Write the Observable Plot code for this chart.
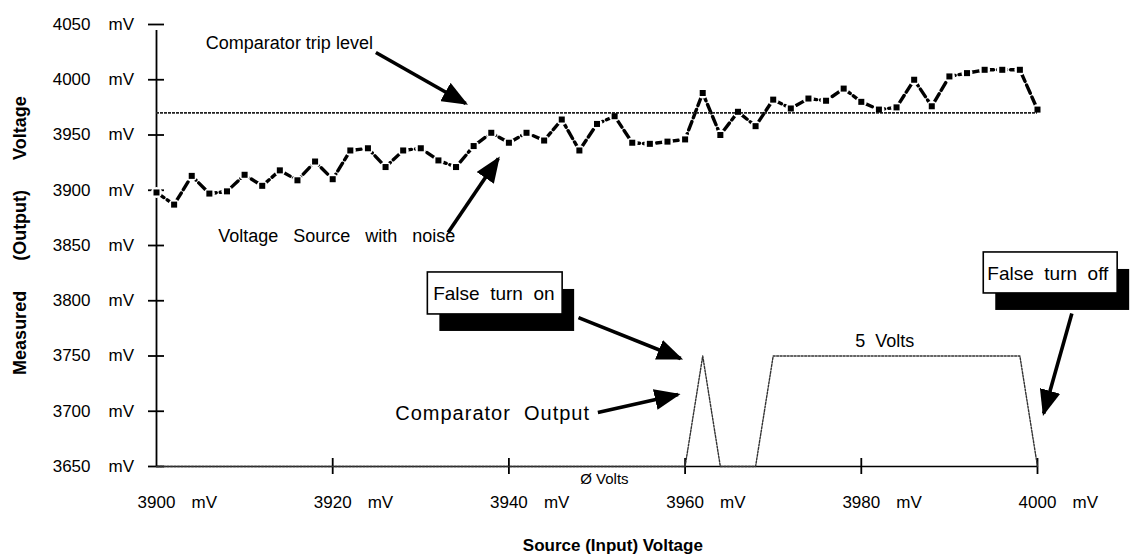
<!DOCTYPE html>
<html><head><meta charset="utf-8">
<script src="https://cdn.jsdelivr.net/npm/d3@7"></script>
<script src="https://cdn.jsdelivr.net/npm/@observablehq/plot@0.6"></script>
<style>
html,body{margin:0;padding:0;background:#fff;}
#chart svg{display:block;}
#chart svg text{white-space:pre;}
</style></head><body><div id="chart"></div>
<script>
// Source (input) voltage, mV
const sourceMv = [3900,3902,3904,3906,3908,3910,3912,3914,3916,3918,3920,3922,3924,3926,3928,3930,3932,3934,3936,3938,3940,3942,3944,3946,3948,3950,3952,3954,3956,3958,3960,3962,3964,3966,3968,3970,3972,3974,3976,3978,3980,3982,3984,3986,3988,3990,3992,3994,3996,3998,4000];
// Measured (output) voltage of the noisy source, mV
const measuredMv = [3898,3887,3913,3897,3899,3914,3904,3918,3909,3926,3910,3936,3938,3921,3936,3938,3927,3921,3940,3952,3943,3952,3945,3964,3936,3960,3967,3943,3942,3944,3946,3988,3950,3971,3958,3982,3974,3983,3981,3992,3980,3973,3975,4000,3976,4003,4006,4009,4009,4009,3973];
// Comparator output trace
const compX = [3900,3960,3962,3964,3968,3970,3998,4000];
const compY = [3650,3650,3750,3650,3650,3750,3750,3650];
const tripLevel = 3970;
const yTicks = [3650,3700,3750,3800,3850,3900,3950,4000,4050];
const xTicks = [3900,3920,3940,3960,3980,4000];
const yTitle = "Measured      (Output)      Voltage";
const xTitle = "Source (Input) Voltage";

// annotation texts
const noteText = ["Comparator trip level","Voltage   Source   with   noise","Comparator  Output","Ø Volts","5  Volts"];
const noteX = [3905.6,3907.0,3927.1,3948.1,3979.3];
const noteY = [4032.8,3858.1,3698.0,3638.2,3763.1];
const noteSize = [18,18,20,15,18];
const noteSpacing = [0,0,1,0,0];
// arrows
const arrowX1 = [3924.9,3933.1,3947.9,3950.1,4003.9];
const arrowY1 = [4024.7,3861.8,3784.8,3698.9,3788.5];
const arrowX2 = [3935.1,3938.8,3959.5,3959.2,4000.7];
const arrowY2 = [3978.5,3928.7,3747.7,3715.2,3698.0];
// boxed labels
const boxText = ["False  turn  on","False  turn  off"];
const boxX1 = [3930.8,3993.9];
const boxX2 = [3946.1,4009.1];
const boxY1 = [3787.6,3806.6];
const boxY2 = [3825.6,3843.7];
const boxTextX = [3931.4,3994.3];
const boxTextY = [3806.6,3824.7];

const series = sourceMv.map((x,i)=>({x, y: measuredMv[i]}));
const comp = compX.map((x,i)=>({x, y: compY[i]}));
const notes = noteText.map((t,i)=>({t, x: noteX[i], y: noteY[i], s: noteSize[i], ls: noteSpacing[i]}));
const arrows = arrowX1.map((x1,i)=>({x1, y1: arrowY1[i], x2: arrowX2[i], y2: arrowY2[i]}));
const boxes = boxText.map((t,i)=>({t, x1: boxX1[i], x2: boxX2[i], y1: boxY1[i], y2: boxY2[i], tx: boxTextX[i], ty: boxTextY[i]}));

function triHead(color) {
  const m = d3.create("svg:marker")
    .attr("viewBox", "0 -5 10 10")
    .attr("refX", 9).attr("refY", 0)
    .attr("markerUnits", "userSpaceOnUse")
    .attr("markerWidth", 26).attr("markerHeight", 21)
    .attr("preserveAspectRatio", "none")
    .attr("orient", "auto");
  m.append("path").attr("d", "M0,-5L10,0L0,5Z").attr("fill", color).attr("stroke", "none");
  return m.node();
}

const font = "'Liberation Sans', Arial, Helvetica, sans-serif";

const chart = Plot.plot({
  width: 1133, height: 559,
  marginLeft: 156, marginRight: 96, marginTop: 24, marginBottom: 93,
  x: {domain: [3900, 4000], axis: null},
  y: {domain: [3650, 4050], axis: null},
  style: {fontFamily: font, fontSize: "17px", color: "#000", background: "#fff"},
  marks: [
    // axes
    Plot.ruleX([3900], {y1: 3650, y2: 4050, stroke: "#000", strokeWidth: 1.8, insetBottom: -6}),
    Plot.ruleY([3650], {x1: 3900, x2: 4000, stroke: "#000", strokeWidth: 1.4}),
    Plot.ruleY(yTicks, {y: d => d, x1: 3900, x2: 3900, insetLeft: -8, insetRight: -8, stroke: "#000", strokeWidth: 1.8}),
    Plot.ruleX(xTicks.slice(1), {x: d => d, y1: 3650, y2: 3650, insetTop: -8, insetBottom: -8, stroke: "#000", strokeWidth: 1.8}),
    Plot.text(yTicks, {y: d => d, frameAnchor: "left", dx: -66, textAnchor: "end", text: d => String(d), fontSize: 17}),
    Plot.text(yTicks, {y: d => d, frameAnchor: "left", dx: -48, textAnchor: "start", text: () => "mV", fontSize: 17}),
    Plot.text(xTicks, {x: d => d, frameAnchor: "bottom", dy: 41, textAnchor: "middle", text: d => String(d), fontSize: 17}),
    Plot.text(xTicks, {x: d => d, frameAnchor: "bottom", dy: 41, dx: 35, textAnchor: "start", text: () => "mV", fontSize: 17}),
    Plot.text([yTitle], {frameAnchor: "left", y: () => 3859, dx: -136, rotate: -90, textAnchor: "middle", text: d => d, fontWeight: "bold", fontSize: 18}),
    Plot.text([xTitle], {frameAnchor: "bottom", x: () => 3951.8, dy: 84, textAnchor: "middle", text: d => d, fontWeight: "bold", fontSize: 17}),
    // comparator output
    Plot.line(comp, {x: "x", y: "y", stroke: "#333", strokeWidth: 1.4, strokeDasharray: "2,1.5"}),
    // noisy source
    Plot.line(series, {x: "x", y: "y", stroke: "#000", strokeWidth: 3.4, strokeDasharray: "9,4"}),
    Plot.dot(series, {x: "x", y: "y", r: 5.5, fill: "#fff", stroke: "none"}),
    // trip level
    Plot.ruleY([tripLevel], {x1: 3900, x2: 4000, stroke: "#222", strokeWidth: 1.6, strokeDasharray: "3,1"}),
    Plot.dot(series, {x: "x", y: "y", r: 3.4, symbol: "square", fill: "#000", stroke: "none"}),
    // arrows
    Plot.link(arrows, {x1: "x1", y1: "y1", x2: "x2", y2: "y2", stroke: "#000", strokeWidth: 3.6, markerEnd: triHead}),
    // boxes
    Plot.rect(boxes, {x1: "x1", x2: "x2", y1: "y1", y2: "y2", fill: "#000", dx: 12, dy: 17}),
    Plot.rect(boxes, {x1: "x1", x2: "x2", y1: "y1", y2: "y2", fill: "#fff", stroke: "#000", strokeWidth: 1.6}),
    Plot.text(boxes, {x: "tx", y: "ty", text: "t", textAnchor: "start", fontSize: 19}),
    // notes
    Plot.text(notes, {x: "x", y: "y", text: "t", textAnchor: "start", fontSize: "s"})
  ]
});
// letter spacing for notes that need it
d3.select(chart).selectAll("text").each(function() {
  const n = notes.find(d => d.t === this.textContent);
  if (n && n.ls) this.setAttribute("letter-spacing", n.ls);
});
document.getElementById("chart").appendChild(chart);
</script></body></html>
